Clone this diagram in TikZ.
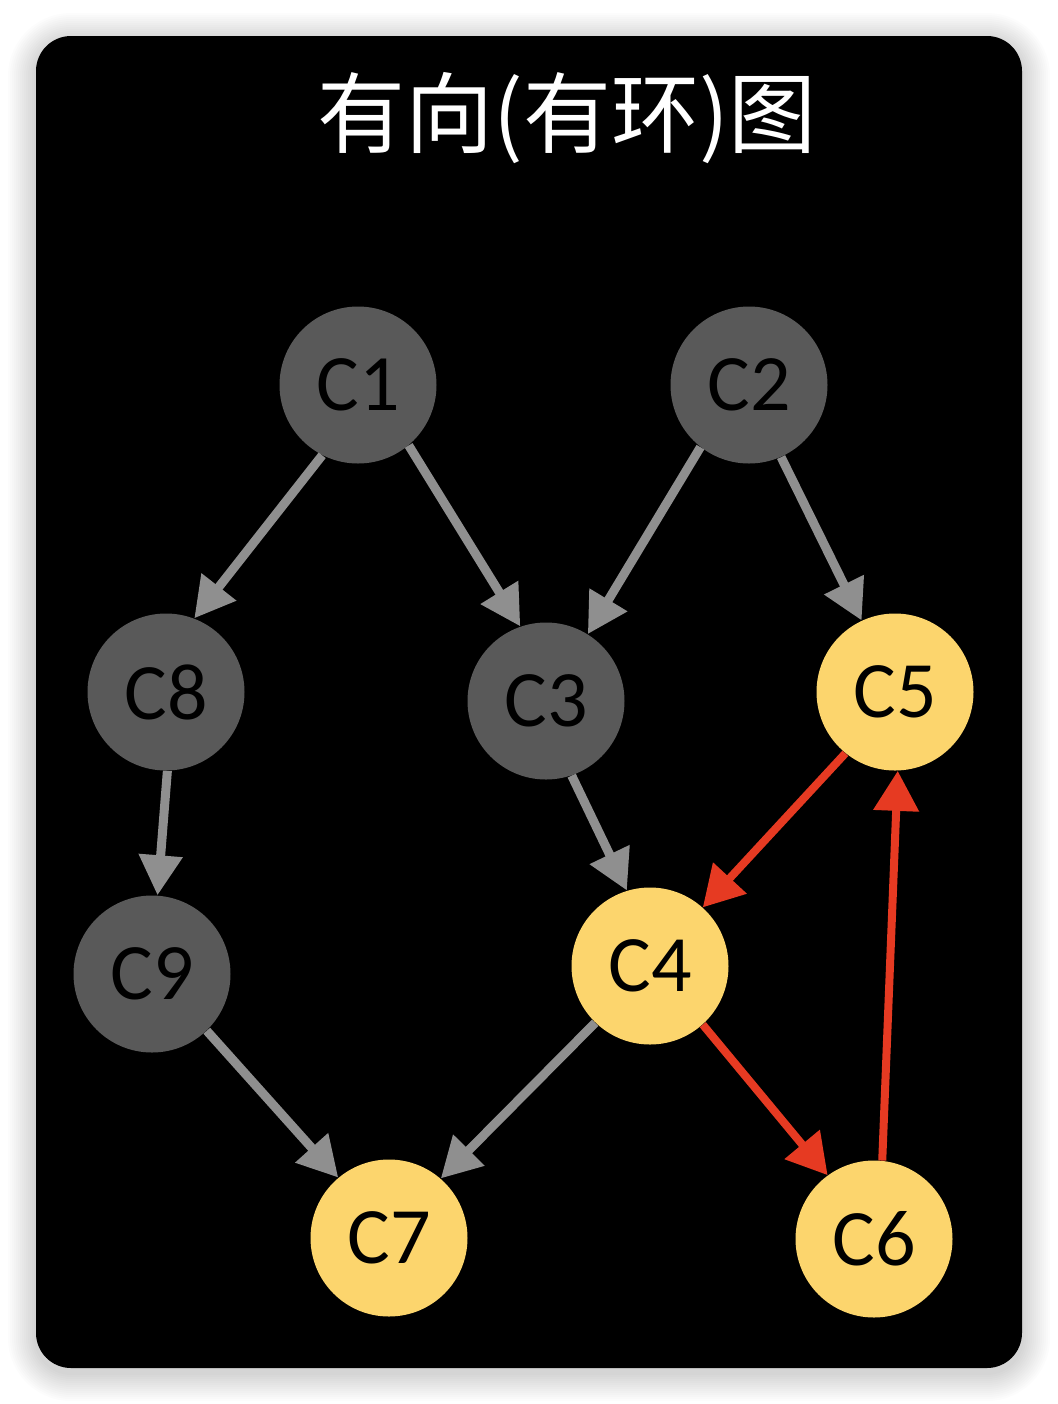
\documentclass[tikz,border=0pt]{standalone}
\usepackage{fontspec}
\setmainfont{Carlito}
\newfontfamily\cjkfont{Noto Sans CJK SC}
\usetikzlibrary{arrows.meta}
\definecolor{nodegray}{HTML}{595959}
\definecolor{edgegray}{HTML}{8F8F8F}
\definecolor{nodeyellow}{HTML}{FCD56D}
\definecolor{edgered}{HTML}{E63A22}
\tikzset{
  cnode/.style={circle, minimum size=78.5pt, inner sep=0pt, text=black,
    font=\fontsize{40pt}{40pt}\selectfont},
  grayn/.style={cnode, fill=nodegray},
  yelln/.style={cnode, fill=nodeyellow},
  grayedge/.style={draw=edgegray, line width=4.5pt,
    -{Triangle[length=20pt,width=21pt]}, fill=edgegray},
  rededge/.style={draw=edgered, line width=4pt,
    -{Triangle[length=20pt,width=22pt]}, fill=edgered},
}
\begin{document}
\begin{tikzpicture}[x=0.5pt,y=-0.5pt]
\useasboundingbox (0,0) rectangle (1058,1404);
\fill[white] (0,0) rectangle (1058,1404);
% soft shadow
\foreach \i in {1,...,14}{
  \fill[black, opacity=0.013, rounded corners=17.5pt+\i pt]
    (36-2*\i,36-2*\i+5) rectangle (1022+2*\i,1368+2*\i+5);
}
\fill[black, rounded corners=17.5pt] (36,36) rectangle (1022,1368);
\node[text=white, font=\cjkfont\fontsize{44pt}{44pt}\selectfont] (title) at (567,118) {有向(有环)图};
\node[grayn] (c1) at (358,385) {C1};
\node[grayn] (c2) at (749,385) {C2};
\node[grayn] (c8) at (166,692) {C8};
\node[grayn] (c3) at (546,701) {C3};
\node[yelln] (c5) at (895,692) {C5};
\node[grayn] (c9) at (152,974) {C9};
\node[yelln] (c4) at (650,966) {C4};
\node[yelln] (c7) at (389,1238) {C7};
\node[yelln] (c6) at (874,1239) {C6};
\draw[grayedge] (c1.-117) -- (c8.69);
\draw[grayedge] (c1.-50) -- (c3.109);
\draw[grayedge] (c2.-128) -- (c3.58);
\draw[grayedge] (c2.-66) -- (c5.115);
\draw[grayedge] (c8.-89) -- (c9.86);
\draw[grayedge] (c3.-71) -- (c4.107);
\draw[grayedge] (c9.-46) -- (c7.130);
\draw[grayedge] (c4.-134) -- (c7.49);
\draw[rededge] (c5.-129) -- (c4.48);
\draw[rededge] (c4.-48) -- (c6.126);
\draw[rededge] (c6.84) -- (c5.-88);
\end{tikzpicture}
\end{document}
